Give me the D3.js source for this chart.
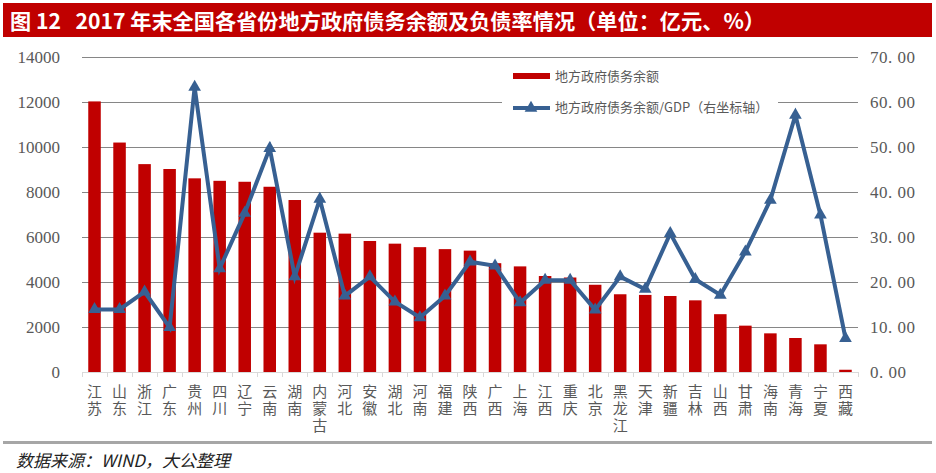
<!DOCTYPE html>
<html><head><meta charset="utf-8">
<script src="https://cdn.jsdelivr.net/npm/d3@7"></script>
<style>body{margin:0;background:#fff}svg{display:block}</style>
</head><body>
<svg id="c" width="936" height="473"></svg>
<script>
const provinces = ["江苏","山东","浙江","广东","贵州","四川","辽宁","云南","湖南","内蒙古","河北","安徽","湖北","河南","福建","陕西","广西","上海","江西","重庆","北京","黑龙江","天津","新疆","吉林","山西","甘肃","海南","青海","宁夏","西藏"];
const debtBalance = [12026,10198,9239,9022,8607,8497,8455,8233,7644,6192,6150,5823,5704,5549,5461,5394,4836,4694,4266,4200,3877,3455,3426,3378,3185,2570,2060,1718,1511,1230,100];
const debtToGdp = [13.9,13.9,17.8,9.9,63.3,23.0,35.3,49.7,21.2,38.4,16.9,21.2,15.6,12.1,16.9,24.5,23.6,15.4,20.4,20.4,13.8,21.2,18.4,30.8,20.6,17.1,26.7,38.2,57.1,34.9,7.5];
const leftTicks = [0,2000,4000,6000,8000,10000,12000,14000];
const rightTicks = [0,10,20,30,40,50,60,70];
const legendLabels = ["地方政府债务余额","地方政府债务余额/GDP（右坐标轴）"];
const titleText = "图 12   2017 年末全国各省份地方政府债务余额及负债率情况（单位：亿元、%）";
const sourceText = "数据来源：WIND，大公整理";

const svg = d3.select("#c");
const L = 82, R = 858, T = 57, B = 372;
const RED = "#C00000", BLUE = "#376092", GRID = "#868686", TXT = "#595959";

// title bar
svg.append("rect").attr("x",3).attr("y",3).attr("width",929).attr("height",34).attr("fill",RED);
svg.append("text").attr("x",10).attr("y",29).attr("fill","#fff")
  .attr("xml:space","preserve").style("white-space","pre")
  .attr("font-family","'Noto Sans CJK SC'").attr("font-weight","bold").attr("font-size",21)
  .attr("textLength",755).attr("lengthAdjust","spacingAndGlyphs").text(titleText);

const x = d3.scaleBand().domain(provinces).range([L,R]).paddingInner(0.5).paddingOuter(0.25);
const yL = d3.scaleLinear().domain([0,14000]).range([B,T]);
const yR = d3.scaleLinear().domain([0,70]).range([B,T]);

// gridlines
svg.append("g").selectAll("line").data(leftTicks.filter(d=>d>0)).join("line")
  .attr("x1",L).attr("x2",R).attr("y1",d=>yL(d)+0.5).attr("y2",d=>yL(d)+0.5)
  .attr("stroke",GRID).attr("stroke-width",1);

// left axis labels
svg.append("g").selectAll("text").data(leftTicks).join("text")
  .attr("x",60).attr("y",d=>yL(d)+6).attr("text-anchor","end")
  .attr("font-family","'Liberation Serif'").attr("font-size",17).attr("fill",TXT)
  .text(d=>d);
// right axis labels
svg.append("g").selectAll("text").data(rightTicks).join("text")
  .attr("x",870).attr("y",d=>yR(d)+6).attr("text-anchor","start")
  .attr("font-family","'Liberation Serif'").attr("font-size",17).attr("fill",TXT)
  .attr("letter-spacing","0.5").attr("xml:space","preserve").style("white-space","pre")
  .text(d=>d3.format(".2f")(d).replace(".",". "));

// bars
svg.append("g").selectAll("rect").data(provinces).join("rect")
  .attr("x",d=>x(d)).attr("width",x.bandwidth())
  .attr("y",(d,i)=>yL(debtBalance[i])).attr("height",(d,i)=>B-yL(debtBalance[i]))
  .attr("fill",RED);

// x axis line + ticks
svg.append("line").attr("x1",L).attr("x2",R).attr("y1",B+0.5).attr("y2",B+0.5).attr("stroke","#D9D9D9");
svg.append("g").selectAll("line").data(d3.range(provinces.length+1)).join("line")
  .attr("x1",i=>Math.round(L+i*(R-L)/provinces.length)+0.5).attr("x2",i=>Math.round(L+i*(R-L)/provinces.length)+0.5)
  .attr("y1",B).attr("y2",B+5).attr("stroke","#D9D9D9");

// x labels (vertical, upright)
svg.append("g").selectAll("text").data(provinces).join("text")
  .attr("x",d=>x(d)+x.bandwidth()/2).attr("y",384)
  .style("writing-mode","vertical-rl").style("text-orientation","upright")
  .attr("letter-spacing",2)
  .attr("font-family","'Noto Sans CJK SC'").attr("font-size",15).attr("fill",TXT)
  .text(d=>d);

// line
const cx = d=>x(d)+x.bandwidth()/2;
const line = d3.line().x((d,i)=>cx(provinces[i])).y(d=>yR(d));
svg.append("path").datum(debtToGdp).attr("d",line).attr("fill","none")
  .attr("stroke",BLUE).attr("stroke-width",4).attr("stroke-linejoin","miter");
const tri = d3.symbol().type(d3.symbolTriangle).size(70);
svg.append("g").selectAll("path").data(debtToGdp).join("path")
  .attr("d",tri).attr("transform",(d,i)=>`translate(${cx(provinces[i])},${yR(d)})`)
  .attr("fill",BLUE);

// legend
const lg = svg.append("g");
lg.append("rect").attr("x",502).attr("y",60).attr("width",276).attr("height",58).attr("fill","#fff");
lg.append("rect").attr("x",513).attr("y",73).attr("width",37).attr("height",6).attr("fill",RED);
lg.append("text").attr("x",555).attr("y",81).attr("font-family","'Noto Sans CJK SC'").attr("font-size",13).attr("fill",TXT).text(legendLabels[0]);
lg.append("line").attr("x1",513).attr("x2",550).attr("y1",108).attr("y2",108).attr("stroke",BLUE).attr("stroke-width",4);
lg.append("path").attr("d",tri).attr("transform","translate(531,108)").attr("fill",BLUE);
lg.append("text").attr("x",555).attr("y",112).attr("font-family","'Noto Sans CJK SC'").attr("font-size",13).attr("fill",TXT).text(legendLabels[1]);

// footer
svg.append("rect").attr("x",3).attr("y",441).attr("width",929).attr("height",3).attr("fill","#A6A6A6");
svg.append("text").attr("x",16).attr("y",467).attr("font-family","'Noto Sans CJK SC'").attr("font-style","italic")
  .attr("font-size",17).attr("fill","#222").text(sourceText);
</script>
</body></html>
